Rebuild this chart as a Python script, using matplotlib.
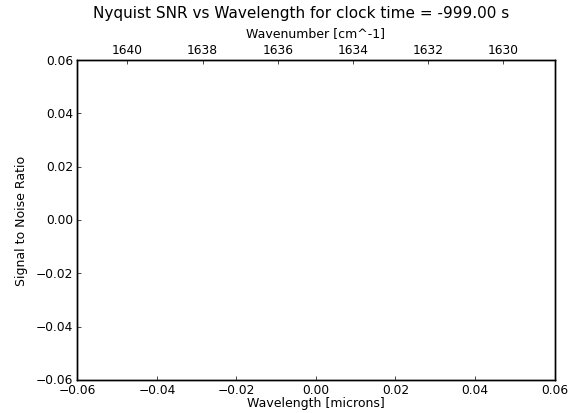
import matplotlib
matplotlib.use("Agg")
import matplotlib.pyplot as plt
from matplotlib.ticker import ScalarFormatter

# Empty SNR plot: no spectrum available for this clock time
clock_time = -999.00
wavelength = []
snr = []
wavelength_ticks = [-0.06, -0.04, -0.02, 0.0, 0.02, 0.04, 0.06]
snr_ticks = [-0.06, -0.04, -0.02, 0.0, 0.02, 0.04, 0.06]
wavenumber_limits = (1641.33, 1628.64)
wavenumber_ticks = [1640, 1638, 1636, 1634, 1632, 1630]

plt.style.use("classic")
plt.rcParams["font.family"] = "DejaVu Sans"

fig = plt.figure(figsize=(5.69, 4.14), dpi=100, facecolor="white")
ax = fig.add_axes([0.136, 0.080, 0.8386, 0.7725])
ax.plot(wavelength, snr, "b-")
ax.set_xlim(-0.06, 0.06)
ax.set_ylim(-0.06, 0.06)
ax.set_xticks(wavelength_ticks)
ax.set_yticks(snr_ticks)
ax.tick_params(labelsize=8.8, length=3)
ax.tick_params(axis="x", pad=2)
ax.tick_params(axis="y", pad=3)
ax.xaxis.set_ticks_position("bottom")
ax.yaxis.set_ticks_position("left")
ax.set_xlabel("Wavelength [microns]", fontsize=9, labelpad=0)
ax.set_ylabel("Signal to Noise Ratio", fontsize=9, labelpad=6)

ax2 = ax.twiny()
ax2.set_xlim(*wavenumber_limits)
ax2.set_xticks(wavenumber_ticks)
ax2.xaxis.set_major_formatter(ScalarFormatter(useOffset=False))
ax2.tick_params(labelsize=8.8, length=3, pad=3)
ax2.xaxis.set_ticks_position("top")
ax2.set_xlabel("Wavenumber [cm^-1]", fontsize=9, labelpad=5)

fig.suptitle("Nyquist SNR vs Wavelength for clock time = %.2f s" % clock_time,
             fontsize=11, x=0.53, y=0.985)

fig.savefig("out.png", dpi=100, facecolor="white")
